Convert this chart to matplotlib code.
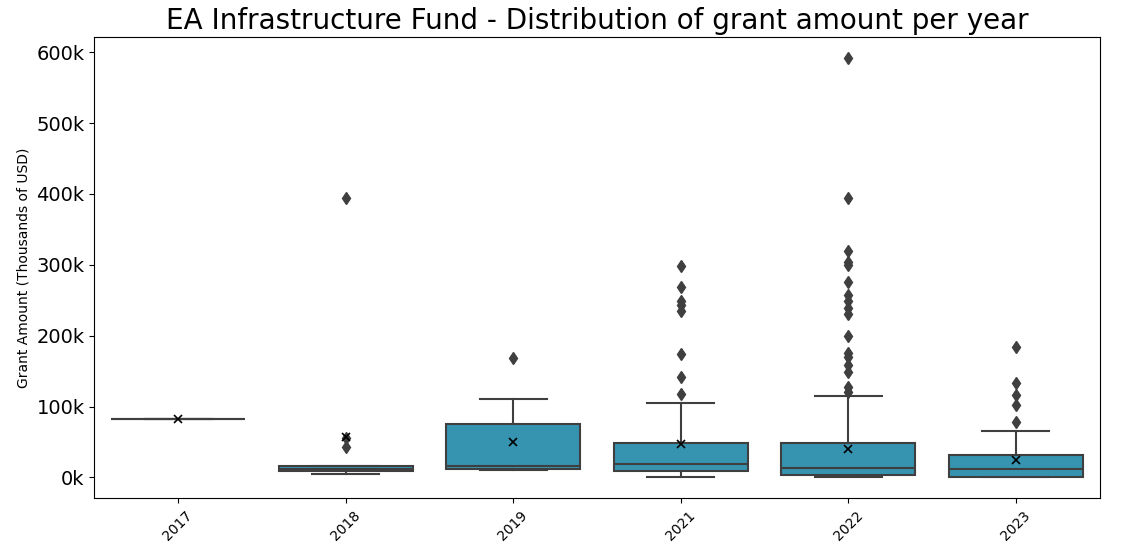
import matplotlib
matplotlib.use("Agg")
import matplotlib.pyplot as plt
from matplotlib.ticker import FuncFormatter

# values, in thousands of USD
years = ['2017', '2018', '2019', '2021', '2022', '2023']
q1 = [82, 9, 11.8, 9, 4, 0.5]
median = [82, 12, 15.6, 19, 14, 12]
q3 = [82, 15.6, 75, 48, 49, 32]
whis_lo = [82, 4.7, 10, 0, 0, 0]
whis_hi = [82, 15.6, 110, 105, 115, 65]
means = [82, 57, 50, 47, 40, 24]
outliers = [
    [],
    [394, 55, 43],
    [169],
    [299, 269, 249, 243, 235, 174, 142, 118],
    [592, 394, 319, 304, 300, 276, 258, 249, 239, 231, 199, 175, 170, 159, 149, 128, 121],
    [184, 133, 116, 102, 78],
]

stats = []
for i in range(len(years)):
    stats.append({
        'label': years[i], 'q1': q1[i], 'med': median[i], 'q3': q3[i],
        'whislo': whis_lo[i], 'whishi': whis_hi[i], 'mean': means[i],
        'fliers': outliers[i],
    })

gray = '#3f3f3f'
teal = '#3794b0'

fig, ax = plt.subplots(figsize=(11.22, 5.6), dpi=100)
ax.bxp(stats, positions=range(len(years)), widths=0.8, patch_artist=True,
       showmeans=True,
       boxprops=dict(facecolor=teal, edgecolor=gray, linewidth=1.5),
       medianprops=dict(color=gray, linewidth=1.5),
       whiskerprops=dict(color=gray, linewidth=1.5),
       capprops=dict(color=gray, linewidth=1.5),
       flierprops=dict(marker='d', markerfacecolor=gray, markeredgecolor=gray, markersize=6),
       meanprops=dict(marker='x', markeredgecolor='black', markersize=6, markeredgewidth=1.2))

ax.set_xlim(-0.5, len(years) - 0.5)
ax.set_xticks(range(len(years)))
ax.set_xticklabels(years, rotation=45, fontsize=10)
ax.yaxis.set_major_formatter(FuncFormatter(lambda v, p: f'{v:.0f}k'))
ax.tick_params(axis='y', labelsize=14)
ax.set_ylabel('Grant Amount (Thousands of USD)', fontsize=10)
ax.set_title('EA Infrastructure Fund - Distribution of grant amount per year', fontsize=20)

plt.subplots_adjust(left=0.084, right=0.98, top=0.934, bottom=0.11)
plt.savefig('out.png')
